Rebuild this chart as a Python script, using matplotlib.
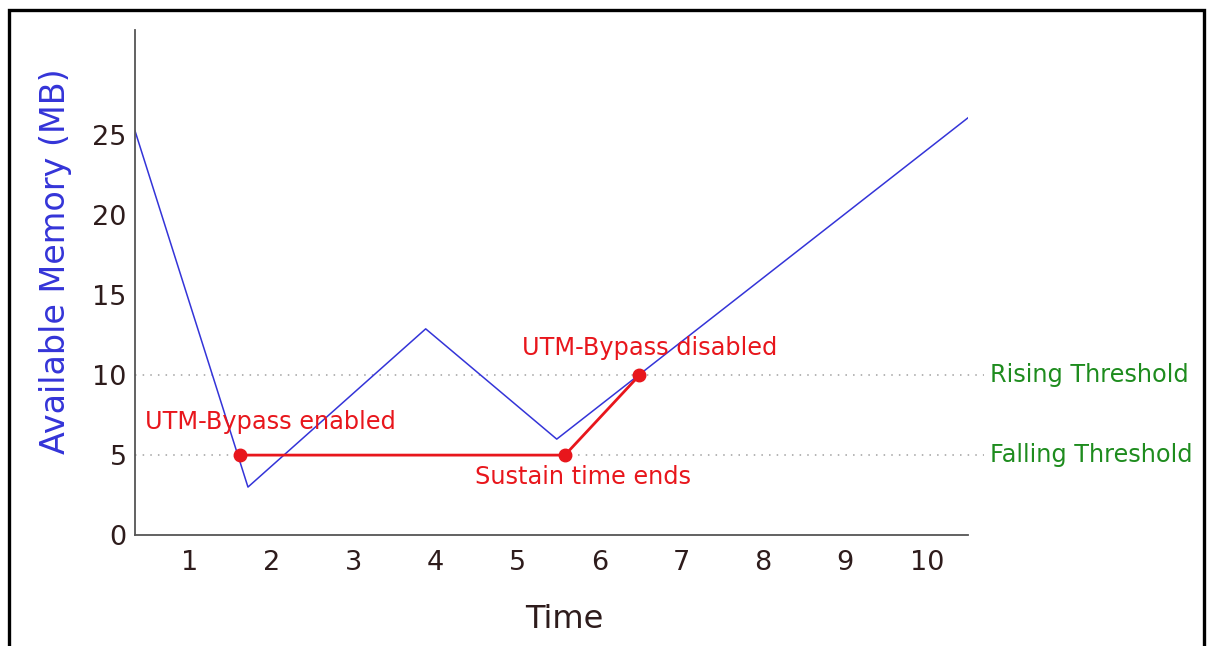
import matplotlib
matplotlib.use("Agg")
import matplotlib.pyplot as plt
from matplotlib.patches import Rectangle

# available memory trace (MB) over time
mem_time = [0.33, 1.71, 3.88, 5.48, 10.5]
mem_mb = [25.3, 3.0, 12.9, 6.0, 26.1]

# UTM-Bypass state changes
bypass_time = [1.61, 5.58, 6.49]
bypass_mb = [5, 5, 10]

rising_threshold = 10
falling_threshold = 5

xticks = [1, 2, 3, 4, 5, 6, 7, 8, 9, 10]
yticks = [0, 5, 10, 15, 20, 25]

blue = "#3434d8"
red = "#e8161c"
green = "#1e8c1e"
dark = "#2e1c1c"

fig = plt.figure(figsize=(12.07, 6.46), dpi=100)
ax = fig.add_axes([0.1118, 0.1718, 0.6901, 0.7818])

# frame around the whole figure
fig.patches.append(Rectangle((9 / 1207, -0.05), 1195 / 1207, 1.05 - 10 / 646,
                             transform=fig.transFigure, fill=False,
                             edgecolor="black", linewidth=2.4))

# threshold guides run a little past the plot area
for thr in (rising_threshold, falling_threshold):
    ax.plot([0.33, 10.7], [thr, thr], color="#a0a0a0", linestyle=(0, (1, 4)),
            linewidth=1.1, clip_on=False, zorder=1)

ax.plot(mem_time, mem_mb, color=blue, linewidth=1.1, zorder=2)
ax.plot(bypass_time, bypass_mb, color=red, linewidth=2.0, zorder=3)
ax.plot(bypass_time, bypass_mb, "o", color=red, markersize=9, zorder=4)

ax.text(0.45, 7.05, "UTM-Bypass enabled", color=red, fontsize=17.3, va="center")
ax.text(4.48, 3.6, "Sustain time ends", color=red, fontsize=17.3, va="center")
ax.text(5.05, 11.7, "UTM-Bypass disabled", color=red, fontsize=17.3, va="center")

ax.text(10.77, rising_threshold, "Rising Threshold", color=green, fontsize=17.3,
        va="center", clip_on=False)
ax.text(10.77, falling_threshold, "Falling Threshold", color=green, fontsize=17.3,
        va="center", clip_on=False)

ax.set_xlim(0.33, 10.5)
ax.set_ylim(0, 31.6)
ax.set_xticks(xticks)
ax.set_yticks(yticks)
ax.tick_params(length=0, labelsize=19.5, labelcolor=dark)
ax.tick_params(axis="x", pad=11)
ax.tick_params(axis="y", pad=6)

for side in ("top", "right"):
    ax.spines[side].set_visible(False)
for side in ("left", "bottom"):
    ax.spines[side].set_color("#555555")
    ax.spines[side].set_linewidth(1.3)

ax.set_ylabel("Available Memory (MB)", color=blue, fontsize=24)
ax.yaxis.set_label_coords(-0.076, 0.542)
ax.set_xlabel("Time", color=dark, fontsize=23, va="center")
ax.xaxis.set_label_coords(0.516, -0.168)

fig.savefig("out.png", dpi=100, facecolor="white")
